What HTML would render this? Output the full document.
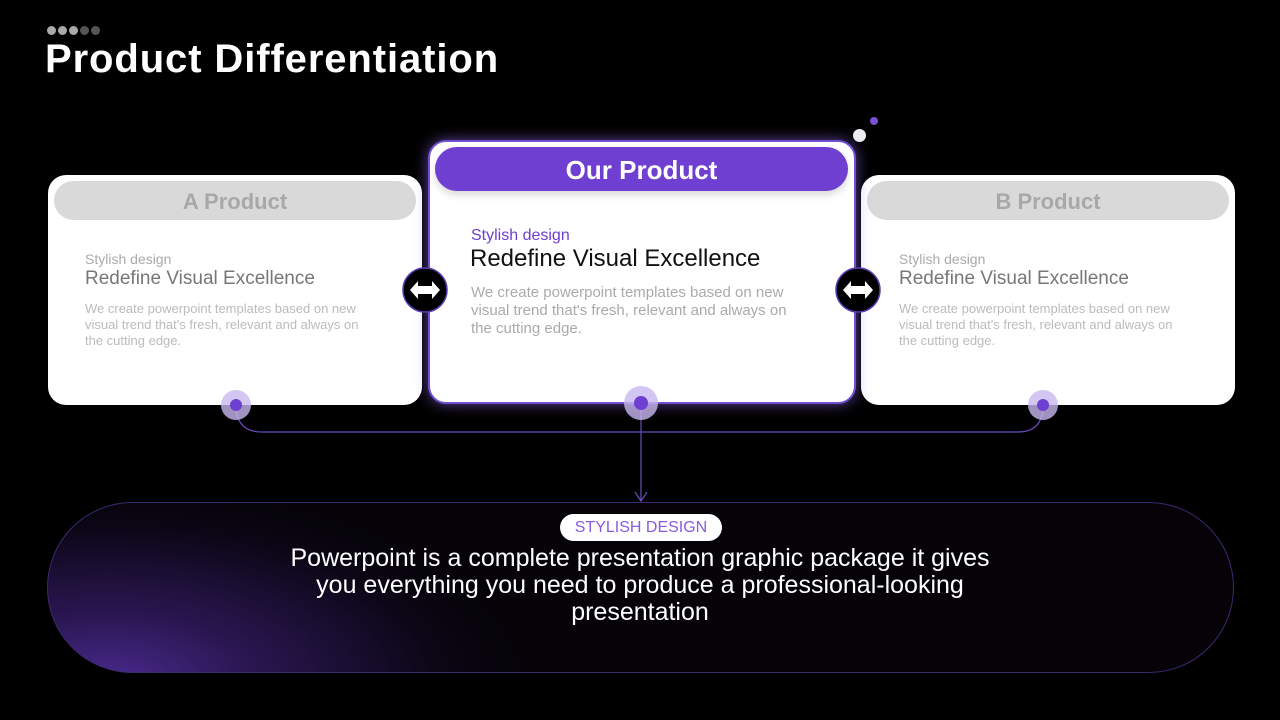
<!DOCTYPE html>
<html><head><style>
body{margin:0;width:1280px;height:720px;background:#000;position:relative;overflow:hidden;font-family:"Liberation Sans",sans-serif}
.a{position:absolute}
.dot{position:absolute;top:26px;width:9px;height:9px;border-radius:50%}
.card{position:absolute;background:#fff;border-radius:18px}
.hdr{position:absolute;border-radius:20px;text-align:center;font-weight:bold}
.t{position:absolute;white-space:nowrap}
</style></head><body>
<div class="dot" style="left:47px;background:#aaa"></div>
<div class="dot" style="left:58px;background:#aaa"></div>
<div class="dot" style="left:69px;background:#aaa"></div>
<div class="dot" style="left:80px;background:#555"></div>
<div class="dot" style="left:91px;background:#555"></div>
<div class="t" style="left:45px;top:37px;color:#fff;font-size:40px;font-weight:bold;letter-spacing:0.9px">Product Differentiation</div>
<div class="a" style="left:853px;top:129px;width:13px;height:13px;border-radius:50%;background:#eee"></div>
<div class="a" style="left:870px;top:117px;width:8px;height:8px;border-radius:50%;background:#7a4fd8"></div>

<svg class="a" style="left:0;top:0" width="1280" height="720">
<path d="M236 405 Q236 432 262 432 L1018 432 Q1043 432 1043 405" fill="none" stroke="#6a4cc0" stroke-width="1.2"/>
<line x1="641" y1="405" x2="641" y2="500" stroke="#6a4cc0" stroke-width="1.2"/>
<path d="M635 492 L641 501 L647 492" fill="none" stroke="#6a4cc0" stroke-width="1.2"/>
</svg>

<!-- A -->
<div class="card" style="left:48px;top:175px;width:374px;height:230px"></div>
<div class="hdr" style="left:54px;top:181px;width:362px;height:39px;background:#d9d9d9;color:#a8a8a8;font-size:22px;line-height:41px">A Product</div>
<div class="t" style="left:85px;top:251px;color:#aaa;font-size:14px">Stylish design</div>
<div class="t" style="left:85px;top:268px;color:#777;font-size:19px">Redefine Visual Excellence</div>
<div class="t" style="left:85px;top:301px;color:#bbb;font-size:13px;line-height:16px;white-space:normal;width:280px">We create powerpoint templates based on new visual trend that's fresh, relevant and always on the cutting edge.</div>

<!-- B -->
<div class="card" style="left:861px;top:175px;width:374px;height:230px"></div>
<div class="hdr" style="left:867px;top:181px;width:362px;height:39px;background:#d9d9d9;color:#a8a8a8;font-size:22px;line-height:41px">B Product</div>
<div class="t" style="left:899px;top:251px;color:#aaa;font-size:14px">Stylish design</div>
<div class="t" style="left:899px;top:268px;color:#777;font-size:19px">Redefine Visual Excellence</div>
<div class="t" style="left:899px;top:301px;color:#bbb;font-size:13px;line-height:16px;white-space:normal;width:280px">We create powerpoint templates based on new visual trend that's fresh, relevant and always on the cutting edge.</div>

<!-- Center -->
<div class="card" style="left:428px;top:140px;width:424px;height:260px;border:2px solid #7050d0;box-shadow:0 0 14px rgba(150,110,255,0.6)"></div>
<div class="hdr" style="left:435px;top:147px;width:413px;height:44px;background:#6e3fd0;color:#fff;font-size:26px;line-height:46px;border-radius:22px;box-shadow:0 4px 8px rgba(0,0,0,0.15)">Our Product</div>
<div class="t" style="left:471px;top:227px;color:#6e3fd0;font-size:16px">Stylish design</div>
<div class="t" style="left:470px;top:245px;color:#111;font-size:24px">Redefine Visual Excellence</div>
<div class="t" style="left:471px;top:284px;color:#aaa;font-size:15px;line-height:18px;white-space:normal;width:335px">We create powerpoint templates based on new visual trend that's fresh, relevant and always on the cutting edge.</div>

<!-- arrow circles -->
<svg class="a" style="left:400px;top:266px" width="50" height="50"><circle cx="25" cy="24" r="22" fill="#000" stroke="#5a3ab0" stroke-width="1.5"/><path d="M10 24 L18 15 L18 20 L32 20 L32 15 L40 24 L32 33 L32 28 L18 28 L18 33Z" fill="#fff"/></svg>
<svg class="a" style="left:833px;top:266px" width="50" height="50"><circle cx="25" cy="24" r="22" fill="#000" stroke="#5a3ab0" stroke-width="1.5"/><path d="M10 24 L18 15 L18 20 L32 20 L32 15 L40 24 L32 33 L32 28 L18 28 L18 33Z" fill="#fff"/></svg>

<!-- dots -->
<svg class="a" style="left:0;top:0" width="1280" height="720">
<circle cx="236" cy="405" r="15" fill="#c9b8f0" opacity="0.8"/><circle cx="236" cy="405" r="6" fill="#6e3fd0"/>
<circle cx="641" cy="403" r="17" fill="#c9b8f0" opacity="0.8"/><circle cx="641" cy="403" r="7" fill="#6e3fd0"/>
<circle cx="1043" cy="405" r="15" fill="#c9b8f0" opacity="0.8"/><circle cx="1043" cy="405" r="6" fill="#6e3fd0"/>
</svg>

<!-- bottom pill -->
<div class="a" style="left:47px;top:502px;width:1187px;height:171px;border-radius:86px;border:1px solid #3a2a70;box-sizing:border-box;background:radial-gradient(ellipse 420px 200px at 60px 180px,#4a2a90 0%,#2a1650 35%,#0a0614 80%,#050308 100%)"></div>
<div class="a" style="left:560px;top:514px;width:162px;height:27px;border-radius:14px;background:#fff;color:#8a5ae0;font-size:16px;line-height:28px;text-align:center">STYLISH DESIGN</div>
<div class="a" style="left:270px;top:545px;width:740px;text-align:center;color:#fff;font-size:25px;line-height:27px">Powerpoint is a complete presentation graphic package it gives you everything you need to produce a professional-looking presentation</div>
</body></html>
